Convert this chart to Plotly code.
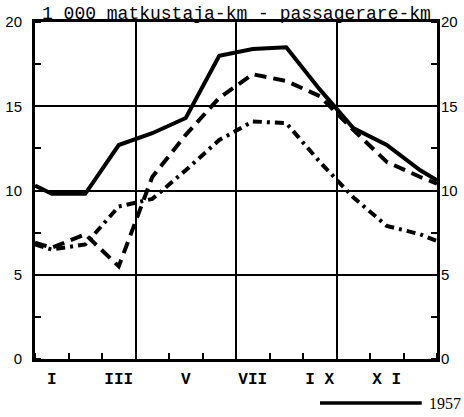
import plotly.graph_objects as go

# Month categories (Roman numerals), label every second month
months = ["I", "II", "III", "IV", "V", "VI", "VII", "VIII", "IX", "X", "XI", "XII"]
month_labels = ["I", "III", "V", "VII", "I X", "X I"]

# Values at month centres (1000 passenger-km)
solid_vals = [9.8, 9.8, 12.7, 13.4, 14.3, 18.0, 18.4, 18.5, 16.0, 13.7, 12.7, 11.2]
dashed_vals = [6.6, 7.4, 5.5, 10.8, 13.3, 15.5, 16.9, 16.5, 15.6, 13.6, 11.7, 10.8]
dashdot_vals = [6.5, 6.8, 9.05, 9.5, 11.2, 13.0, 14.1, 14.0, 11.7, 9.6, 7.9, 7.4]

# Values where the curves meet the left / right frame (year boundary)
solid_edges = [10.3, 10.6]
dashed_edges = [6.9, 10.4]
dashdot_edges = [6.8, 7.0]

y_ticks = [0, 5, 10, 15, 20]
title_text = "1 000 matkustaja-km - passagerare-km"
legend_text = "1957"

n = len(months)
xc = [i + 0.5 for i in range(n)]
xs = [0] + xc + [n]
label_pos = [xc[i] for i in range(0, n, 2)]

def series(edges, vals):
    return [edges[0]] + vals + [edges[1]]

fig = go.Figure()
fig.add_trace(go.Scatter(x=xs, y=series(solid_edges, solid_vals), mode="lines",
                         line=dict(color="black", width=4), showlegend=False))
fig.add_trace(go.Scatter(x=xs, y=series(dashed_edges, dashed_vals), mode="lines",
                         line=dict(color="black", width=4, dash="12px,7px"), showlegend=False))
fig.add_trace(go.Scatter(x=xs, y=series(dashdot_edges, dashdot_vals), mode="lines",
                         line=dict(color="black", width=4, dash="9px,5px,3px,5px"), showlegend=False))
# invisible trace to activate secondary axes
fig.add_trace(go.Scatter(x=[0], y=[0], xaxis="x2", yaxis="y2", mode="markers",
                         marker=dict(opacity=0), showlegend=False, hoverinfo="skip"))

fig.update_layout(
    width=464, height=417,
    margin=dict(l=35, r=27, t=22, b=58, autoexpand=False),
    paper_bgcolor="white", plot_bgcolor="white",
    xaxis=dict(range=[0, n], tickvals=[3, 6, 9], showticklabels=False, ticks="",
               automargin=False,
               showgrid=True, gridcolor="black", gridwidth=2, zeroline=False,
               showline=True, linecolor="black", linewidth=3, mirror=True,
               minor=dict(dtick=1, tick0=0, ticks="inside", ticklen=6, tickwidth=2,
                          tickcolor="black", showgrid=False)),
    xaxis2=dict(range=[0, n], overlaying="x", side="bottom", anchor="y", automargin=False,
                tickvals=label_pos, ticktext=month_labels, ticks="", showgrid=False,
                zeroline=False, showline=False, ticklabelstandoff=8,
                tickfont=dict(family="Liberation Mono", size=16, color="black", weight="bold")),
    yaxis=dict(range=[0, 20], tickvals=y_ticks, showgrid=True, gridcolor="black", gridwidth=2,
               automargin=False,
               zeroline=False, showline=True, linecolor="black", linewidth=3, mirror=True,
               ticks="", ticklabelstandoff=7,
               tickfont=dict(family="Liberation Sans", size=15, color="black"),
               minor=dict(dtick=2.5, tick0=0, ticks="inside", ticklen=6, tickwidth=2,
                          tickcolor="black", showgrid=False)),
    yaxis2=dict(range=[0, 20], overlaying="y", side="right", anchor="x", automargin=False,
                tickvals=y_ticks, showgrid=False, zeroline=False, showline=False,
                ticks="", ticklabelstandoff=3,
                tickfont=dict(family="Liberation Sans", size=15, color="black"),
                minor=dict(dtick=2.5, tick0=0, ticks="inside", ticklen=6, tickwidth=2,
                           tickcolor="black", showgrid=False)),
    annotations=[
        dict(text=title_text, xref="paper", yref="paper", x=0.5, y=1, xanchor="center",
             yanchor="bottom", yshift=-4, showarrow=False,
             font=dict(family="Liberation Mono", size=18, color="black")),
        dict(text=legend_text, xref="paper", yref="paper", x=0.974, y=-0.1306,
             xanchor="left", yanchor="middle", showarrow=False,
             font=dict(family="Liberation Serif", size=16, color="black")),
    ],
    shapes=[
        dict(type="line", xref="paper", yref="paper", x0=0.709, x1=0.962,
             y0=-0.1306, y1=-0.1306, line=dict(color="black", width=3.5)),
    ],
)

fig.write_html("out.html", config={"displayModeBar": False},
               post_script="document.body.style.margin='0';document.body.style.overflow='hidden';")
